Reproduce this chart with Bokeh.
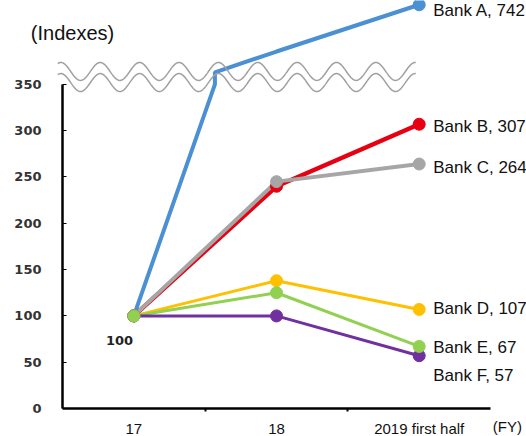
import numpy as np
from bokeh.plotting import figure
from bokeh.models import Range1d, FixedTicker, ColumnDataSource
from bokeh.core.properties import value
from bokeh.embed import file_html
from bokeh.resources import INLINE

# ---- data -------------------------------------------------------------
categories = ["17", "18", "2019 first half"]
bank_names = ["Bank A", "Bank B", "Bank C", "Bank D", "Bank E", "Bank F"]
bank_a = [100, 540, 742]
bank_b = [100, 240, 307]
bank_c = [100, 245, 264]
bank_d = [100, 138, 107]
bank_e = [100, 125, 67]
bank_f = [100, 100, 57]
y_ticks = [0, 50, 100, 150, 200, 250, 300, 350]

series = [bank_a, bank_b, bank_c, bank_d, bank_e, bank_f]
colors = ["#4a90d2", "#e60012", "#a6a6a6", "#ffc000", "#92d050", "#7030a0"]
widths = [4, 4.5, 4, 3, 3, 3]
label_dy = [6, 2, 3, -1, 1, 20]
marker_order = [0, 1, 2, 3, 5, 4]

# ---- broken value axis: values between BREAK_LOW and BREAK_HIGH are cut out
BREAK_LOW = 350
BREAK_HIGH = 450
BREAK_TOP = 363          # display value where the axis resumes above the cut
UPPER_SCALE = 0.25       # compression of the part above the cut


def to_display(v):
    if v <= BREAK_LOW:
        return v
    if v >= BREAK_HIGH:
        return BREAK_TOP + (v - BREAK_HIGH) * UPPER_SCALE
    return BREAK_LOW


def display_path(vals):
    xs, ys = [0.0], [to_display(vals[0])]
    for i in range(len(vals) - 1):
        a, b = vals[i], vals[i + 1]
        if a < BREAK_LOW and b > BREAK_HIGH:
            xc = i + (BREAK_LOW - a) / (b - a)
            xs += [xc, xc]
            ys += [BREAK_LOW, BREAK_TOP]
        xs.append(float(i + 1))
        ys.append(to_display(b))
    return xs, ys


FONT = "Liberation Sans"
X0, X1 = -0.5, 2.5       # extent of the category axis

p = figure(width=526, height=436,
           x_range=Range1d(-0.9345, 2.752), y_range=Range1d(-30.24, 440.6),
           output_backend="svg", toolbar_location=None, min_border=0)
p.outline_line_color = None
p.grid.grid_line_color = None
p.background_fill_color = "white"
p.border_fill_color = "white"

# x axis: category labels at 0,1,2 and separator ticks between them
xa = p.xaxis[0]
xa.fixed_location = 0
xa.ticker = FixedTicker(ticks=[0, 1, 2], minor_ticks=[0.5, 1.5])
xa.bounds = (X0, X1)
xa.major_label_overrides = {i: c for i, c in enumerate(categories)}
xa.major_tick_line_color = None
xa.minor_tick_in = 0
xa.minor_tick_out = 3
xa.minor_tick_line_width = 2
xa.minor_tick_line_color = "black"
xa.axis_line_width = 2.5
xa.axis_line_color = "black"
xa.major_label_text_font = FONT
xa.major_label_text_font_size = "15px"
xa.major_label_text_color = "#111111"
xa.major_label_standoff = 6

# y axis (drawn only up to the cut)
ya = p.yaxis[0]
ya.fixed_location = X0
ya.ticker = FixedTicker(ticks=y_ticks)
ya.bounds = (0, BREAK_LOW)
ya.major_tick_in = 4
ya.major_tick_out = 0
ya.minor_tick_line_color = None
ya.axis_line_width = 2.5
ya.axis_line_color = "black"
ya.major_label_text_font = "DejaVu Sans"
ya.major_label_text_font_size = "13px"
ya.major_label_text_font_style = "bold"
ya.major_label_text_color = "#333333"
ya.major_label_standoff = 21

# series lines and markers
for vals, col, w in zip(series, colors, widths):
    xs, ys = display_path(vals)
    p.line(xs, ys, line_color=col, line_width=w)
for k in marker_order:
    vals, col = series[k], colors[k]
    idx = [0, 2] if k == 0 else [0, 1, 2]
    p.scatter([float(i) for i in idx], [to_display(vals[i]) for i in idx],
              size=12, fill_color=col, line_color=col)

# wavy break marks across the cut
wx = np.linspace(-0.533, 1.976, 500)
period = 0.276
phase = -0.5116
for centre in (352.0, 364.0):
    wy = centre + 9.7 * np.cos(2 * np.pi * (wx - phase) / period)
    p.line(wx, wy, line_color="#a0a0a0", line_width=1.5)

# end-of-line labels
lab = ColumnDataSource(dict(
    x=[2.0] * len(series),
    y=[to_display(v[-1]) for v in series],
    text=[f"{n}, {v[-1]}" for n, v in zip(bank_names, series)],
    dy=label_dy,
))
p.text(x="x", y="y", text="text", source=lab, x_offset=14, y_offset="dy",
       text_font=value(FONT), text_font_size="17px", text_color="#111111",
       text_baseline="middle", text_align="left")

# base value label at the start
p.text(x=[-0.1], y=[bank_a[0]], text=[str(bank_a[0])], y_offset=25,
       text_font=value("DejaVu Sans"), text_font_size="13px",
       text_font_style="bold", text_color="#222222",
       text_baseline="middle", text_align="center")

# unit captions
p.text(x=[-0.722], y=[406], text=["(Indexes)"],
       text_font=value(FONT), text_font_size="20px", text_color="#111111",
       text_baseline="middle", text_align="left")
p.text(x=[2.516], y=[-19.5], text=["(FY)"],
       text_font=value(FONT), text_font_size="15px", text_color="#111111",
       text_baseline="middle", text_align="left")

open("out.html", "w").write(file_html(p, INLINE))
